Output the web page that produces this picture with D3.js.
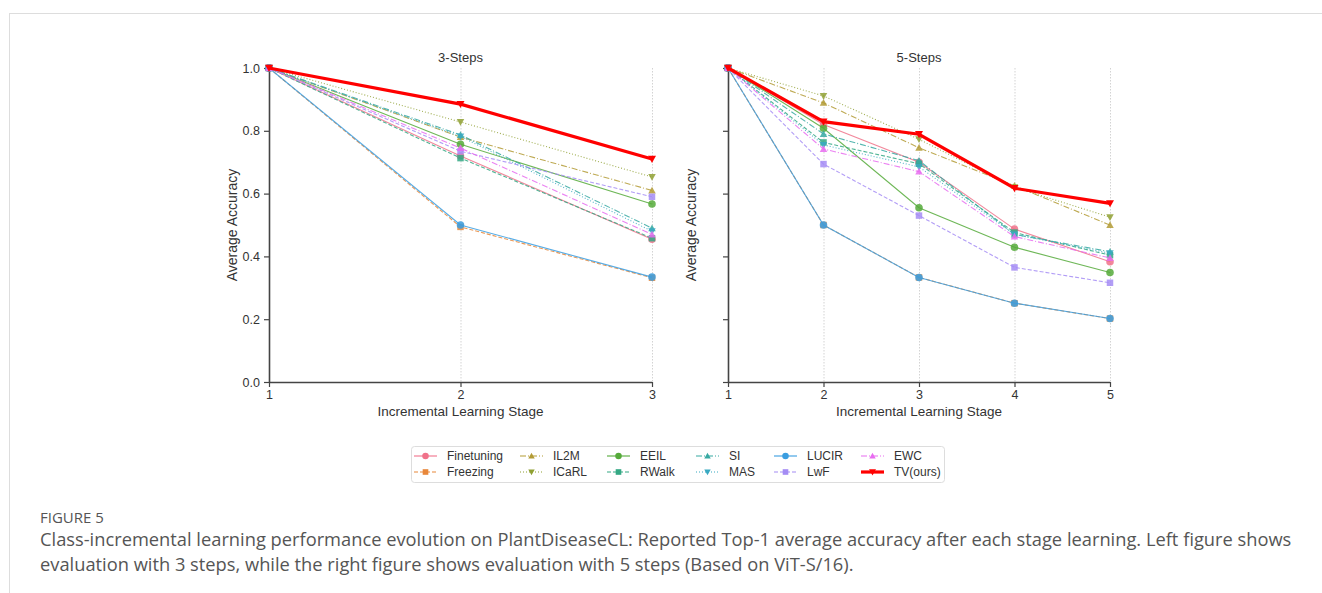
<!DOCTYPE html>
<html><head><meta charset="utf-8">
<script src="https://cdn.jsdelivr.net/npm/d3@7"></script>
<style>
html,body{margin:0;padding:0;background:#fff;}
svg{display:block;}
</style></head>
<body><svg id="c" width="1322" height="593"></svg>
<script>
const methods = ["Finetuning","Freezing","IL2M","ICaRL","EEIL","RWalk","SI","MAS","LUCIR","LwF","EWC","TV(ours)"];
const colors = ["#f0728a","#e8873a","#b39b35","#8fa032","#55aa3a","#34a884","#37a9a2","#39a9c2","#3a9de0","#a48cf4","#e86cf0","#ff0000"];
const markers = ["circle","square","triUp","triDown","circle","square","triUp","triDown","circle","square","triUp","triDown"];
const dashes = ["", "4,2", "6,2,1,2", "1,2", "", "4,2", "6,2,1,2", "1,2", "", "4,2", "6,2,1,2", ""];
const stages3 = [1,2,3];
const stages5 = [1,2,3,4,5];
const yTicks = [0.0,0.2,0.4,0.6,0.8,1.0];
const values3 = {
  "Finetuning":[1,0.720,0.455],
  "Freezing":[1,0.494,0.332],
  "IL2M":[1,0.780,0.610],
  "ICaRL":[1,0.828,0.653],
  "EEIL":[1,0.757,0.567],
  "RWalk":[1,0.713,0.458],
  "SI":[1,0.787,0.490],
  "MAS":[1,0.782,0.480],
  "LUCIR":[1,0.500,0.334],
  "LwF":[1,0.735,0.590],
  "EWC":[1,0.745,0.470],
  "TV(ours)":[1,0.885,0.710]
};
const values5 = {
  "Finetuning":[1,0.820,0.700,0.487,0.383],
  "Freezing":[1,0.500,0.333,0.251,0.202],
  "IL2M":[1,0.889,0.746,0.625,0.500],
  "ICaRL":[1,0.911,0.773,0.620,0.525],
  "EEIL":[1,0.808,0.555,0.429,0.349],
  "RWalk":[1,0.763,0.695,0.476,0.404],
  "SI":[1,0.790,0.705,0.470,0.415],
  "MAS":[1,0.755,0.685,0.470,0.410],
  "LUCIR":[1,0.500,0.333,0.251,0.202],
  "LwF":[1,0.694,0.530,0.365,0.316],
  "EWC":[1,0.742,0.670,0.463,0.395],
  "TV(ours)":[1,0.829,0.789,0.617,0.569]
};
const captionTitle = "FIGURE 5";
const captionLines = [
  "Class-incremental learning performance evolution on PlantDiseaseCL: Reported Top-1 average accuracy after each stage learning. Left figure shows",
  "evaluation with 3 steps, while the right figure shows evaluation with 5 steps (Based on ViT-S/16)."
];

const svg = d3.select("#c");
const FONT = "'Liberation Sans', Arial, sans-serif";
const TXT = "#333";

// page frame
svg.append("line").attr("x1",9).attr("x2",1322).attr("y1",13.5).attr("y2",13.5).attr("stroke","#ddd").attr("stroke-width",1);
svg.append("line").attr("x1",9.5).attr("x2",9.5).attr("y1",13).attr("y2",593).attr("stroke","#ddd").attr("stroke-width",1);

const y = d3.scaleLinear().domain([0,1]).range([382,68]);

function markerPath(type, s){
  if(type==="circle") return d3.symbol().type(d3.symbolCircle).size(s*s*0.8)();
  if(type==="square") return d3.symbol().type(d3.symbolSquare).size(s*s*0.75)();
  const h = s*0.5;
  if(type==="triUp") return `M0,${-h}L${h},${h*0.8}L${-h},${h*0.8}Z`;
  return `M0,${h}L${h},${-h*0.8}L${-h},${-h*0.8}Z`;
}

function panel(stages, values, x0, x1, title, showYLabels){
  const x = d3.scaleLinear().domain([1, stages[stages.length-1]]).range([x0,x1]);
  const g = svg.append("g");
  // grid
  g.selectAll("line.grid").data(stages.slice(1)).join("line")
    .attr("x1",d=>x(d)+0.5).attr("x2",d=>x(d)+0.5).attr("y1",y(1)).attr("y2",y(0))
    .attr("stroke","#c8c8c8").attr("stroke-width",0.8).attr("stroke-dasharray","1.5,1.5");
  // axes
  const ax = g.append("g").attr("transform",`translate(0,${y(0)})`)
    .call(d3.axisBottom(x).tickValues(stages).tickFormat(d3.format("d")).tickSizeOuter(0).tickSize(5).tickPadding(3));
  const ay = g.append("g").attr("transform",`translate(${x0},0)`)
    .call(d3.axisLeft(y).tickValues(yTicks).tickFormat(showYLabels?d3.format(".1f"):()=>"").tickSizeOuter(0).tickSize(5).tickPadding(4));
  [ax,ay].forEach(a=>{
    a.select(".domain").attr("stroke","#444").attr("stroke-width",1.6);
    a.selectAll(".tick line").attr("stroke","#444").attr("stroke-width",1.2);
    a.selectAll("text").attr("fill",TXT).attr("font-family",FONT).attr("font-size",12.5);
  });
  ax.select(".domain").attr("d",`M${x0},0.5H${x1}`);
  ay.select(".domain").attr("d",`M0.5,${y(0)}V${y(1)}`);
  // title and labels
  const cx = (x0+x1)/2;
  g.append("text").attr("x",cx).attr("y",62).attr("text-anchor","middle").attr("fill",TXT)
    .attr("font-family",FONT).attr("font-size",13).text(title);
  g.append("text").attr("x",cx).attr("y",416).attr("text-anchor","middle").attr("fill",TXT)
    .attr("font-family",FONT).attr("font-size",13.5).text("Incremental Learning Stage");
  g.append("text").attr("transform",`translate(${x0-32},${(y(0)+y(1))/2}) rotate(-90)`).attr("text-anchor","middle").attr("fill",TXT)
    .attr("font-family",FONT).attr("font-size",14).text("Average Accuracy");
  // lines
  const line = d3.line().x((d,i)=>x(stages[i])).y(d=>y(d));
  methods.forEach((m,k)=>{
    const vals = values[m];
    const isTV = m==="TV(ours)";
    g.append("path").datum(vals).attr("d",line).attr("fill","none")
      .attr("stroke",colors[k]).attr("stroke-width",isTV?3.2:1.1)
      .attr("stroke-dasharray",dashes[k]||null).attr("opacity",isTV?1:0.85);
    g.selectAll(null).data(vals).join("path")
      .attr("transform",(d,i)=>`translate(${x(stages[i])},${y(d)})`)
      .attr("d",markerPath(markers[k], isTV?8:7.5)).attr("fill",colors[k]).attr("opacity",isTV?1:0.85);
  });
}
panel(stages3, values3, 269, 652, "3-Steps", true);
panel(stages5, values5, 728, 1110, "5-Steps", false);

// legend
const lg = svg.append("g");
lg.append("rect").attr("x",411.5).attr("y",446.5).attr("width",533).attr("height",36).attr("rx",3)
  .attr("fill","#fff").attr("stroke","#ddd").attr("stroke-width",1);
const colX = [447,553,640,729,807,894];
const rowY = [456,472];
methods.forEach((m,k)=>{
  const c = Math.floor(k/2), r = k%2;
  const tx = colX[c], ty = rowY[r];
  const isTV = m==="TV(ours)";
  lg.append("line").attr("x1",tx-33).attr("x2",tx-10).attr("y1",ty).attr("y2",ty)
    .attr("stroke",colors[k]).attr("stroke-width",isTV?3.2:1.1).attr("stroke-dasharray",dashes[k]||null);
  lg.append("path").attr("transform",`translate(${tx-21.5},${ty})`).attr("d",markerPath(markers[k],isTV?7:6.5)).attr("fill",colors[k]);
  lg.append("text").attr("x",tx).attr("y",ty+4.3).attr("fill",TXT).attr("font-family",FONT).attr("font-size",12).text(m);
});

// caption
svg.append("text").attr("x",40).attr("y",523).attr("fill","#555").attr("font-family","'Open Sans', sans-serif")
  .attr("font-size",15).text(captionTitle);
captionLines.forEach((t,i)=>{
  svg.append("text").attr("x",40).attr("y",546+i*25).attr("fill","#555").attr("font-family","'Open Sans', sans-serif")
    .attr("font-size",18.3).text(t);
});
</script></body></html>
